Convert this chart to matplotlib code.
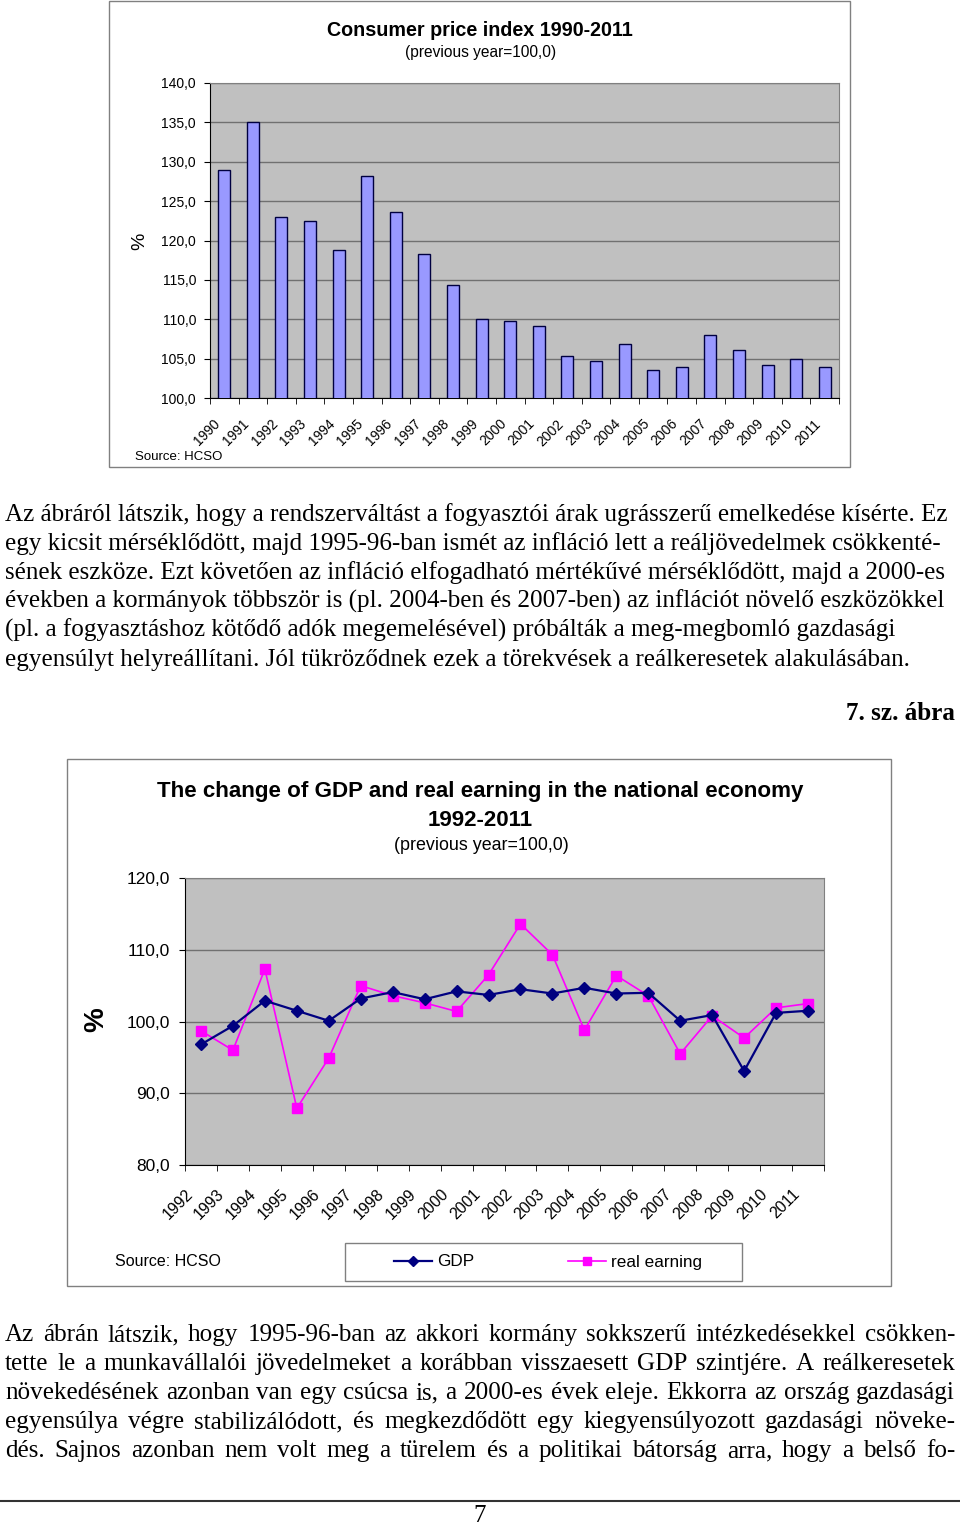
import matplotlib
matplotlib.use('Agg')
import matplotlib.pyplot as plt
from matplotlib.patches import Rectangle
from matplotlib.lines import Line2D
from matplotlib.transforms import ScaledTranslation
import numpy as np

W, H = 960, 1525
DPI = 100

# ---------------- data ----------------
cpi_years = [str(y) for y in range(1990, 2012)]
cpi_values = [128.9, 135.0, 123.0, 122.5, 118.8, 128.2, 123.6, 118.3, 114.3, 110.0, 109.8,
              109.2, 105.3, 104.7, 106.8, 103.6, 103.9, 108.0, 106.1, 104.2, 104.9, 103.9]
cpi_yticks = [100, 105, 110, 115, 120, 125, 130, 135, 140]

gdp_years = [str(y) for y in range(1992, 2012)]
gdp_values = [96.8, 99.4, 102.9, 101.5, 100.1, 103.2, 104.1, 103.1, 104.2, 103.7,
              104.5, 103.9, 104.7, 103.9, 104.0, 100.1, 100.9, 93.1, 101.2, 101.5]
earning_values = [98.7, 96.0, 107.3, 87.9, 94.9, 105.0, 103.6, 102.6, 101.4, 106.5,
                  113.6, 109.3, 98.8, 106.4, 103.6, 95.5, 100.8, 97.7, 101.9, 102.5]
gdp_yticks = [80, 90, 100, 110, 120]

para1 = [
    "Az ábráról látszik, hogy a rendszerváltást a fogyasztói árak ugrásszerű emelkedése kísérte. Ez",
    "egy kicsit mérséklődött, majd 1995-96-ban ismét az infláció lett a reáljövedelmek csökkenté-",
    "sének eszköze. Ezt követően az infláció elfogadható mértékűvé mérséklődött, majd a 2000-es",
    "években a kormányok többször is (pl. 2004-ben és 2007-ben) az inflációt növelő eszközökkel",
    "(pl. a fogyasztáshoz kötődő adók megemelésével) próbálták a meg-megbomló gazdasági",
    "egyensúlyt helyreállítani. Jól tükröződnek ezek a törekvések a reálkeresetek alakulásában.",
]
para2 = [
    "Az ábrán látszik, hogy 1995-96-ban az akkori kormány sokkszerű intézkedésekkel csökken-",
    "tette le a munkavállalói jövedelmeket a korábban visszaesett GDP szintjére. A reálkeresetek",
    "növekedésének azonban van egy csúcsa is, a 2000-es évek eleje. Ekkorra az ország gazdasági",
    "egyensúlya végre stabilizálódott, és megkezdődött egy kiegyensúlyozott gazdasági növeke-",
    "dés. Sajnos azonban nem volt meg a türelem és a politikai bátorság arra, hogy a belső fo-",
]

SANS = 'Liberation Sans'
SERIF = 'Liberation Serif'
plt.rcParams['font.family'] = [SANS, 'DejaVu Sans']

fig = plt.figure(figsize=(W / DPI, H / DPI), dpi=DPI)
fig.patch.set_facecolor('white')
renderer = fig.canvas.get_renderer()


def fx(x):
    return x / W


def fy(y):
    return 1 - y / H


def add_ax(x0, y0, x1, y1):
    return fig.add_axes([fx(x0), fy(y1), (x1 - x0) / W, (y1 - y0) / H])


def frame(x0, y0, x1, y1, color='#808080', lw=1.0):
    fig.add_artist(Rectangle((fx(x0), fy(y1)), (x1 - x0) / W, (y1 - y0) / H,
                             transform=fig.transFigure, fill=False, edgecolor=color, lw=lw))


def fmt(v):
    return f"{v:.1f}".replace('.', ',')


def style_axes(ax, nyears):
    ax.set_facecolor('#C0C0C0')
    for s in ['top', 'right']:
        ax.spines[s].set_color('#808080')
    for s in ['left', 'bottom']:
        ax.spines[s].set_color('black')
    ax.yaxis.grid(True, color='#707070', lw=1.0)
    ax.set_axisbelow(True)
    ax.set_xlim(-0.5, nyears - 0.5)
    ax.set_xticks(np.arange(-0.5, nyears, 1.0), minor=True)
    ax.tick_params(axis='x', which='minor', length=4, direction='out', color='black')


# ---------------- chart 1 ----------------
frame(109, 1, 850, 467)
ax1 = add_ax(210, 83, 839, 398)
style_axes(ax1, len(cpi_years))
x1 = np.arange(len(cpi_years))
ax1.bar(x1, cpi_values, width=0.42, color='#9999FF', edgecolor='#000040', lw=1.0, zorder=3)
ax1.set_ylim(100, 140)
ax1.set_yticks(cpi_yticks)
ax1.set_yticklabels([fmt(v) for v in cpi_yticks], fontsize=10)
ax1.tick_params(axis='y', length=4, pad=6)
ax1.set_xticks(x1)
ax1.set_xticklabels(cpi_years, rotation=45, ha='right', va='center',
                    rotation_mode='anchor', fontsize=10)
ax1.tick_params(axis='x', which='major', length=0, pad=17)
off = ScaledTranslation(-4.3 / 72, 0, fig.dpi_scale_trans)
for lab in ax1.get_xticklabels():
    lab.set_transform(lab.get_transform() + off)

fig.text(fx(480), fy(31), "Consumer price index 1990-2011", ha='center', va='center',
         fontsize=14.2, fontweight='bold')
fig.text(fx(481), fy(52), "(previous year=100,0)", ha='center', va='center', fontsize=11.2)
fig.text(fx(140), fy(241), "%", rotation=90, ha='center', va='center', fontsize=14)
fig.text(fx(135), fy(457), "Source: HCSO", ha='left', va='center', fontsize=9.5)

# ---------------- chart 2 ----------------
frame(67, 759, 891, 1286)
ax2 = add_ax(185, 878, 824, 1165)
style_axes(ax2, len(gdp_years))
x2 = np.arange(len(gdp_years))
l_gdp, = ax2.plot(x2, gdp_values, color='#000080', lw=1.6, marker='D', ms=6.5,
                  markerfacecolor='#000080', markeredgecolor='#000080', zorder=4)
l_earn, = ax2.plot(x2, earning_values, color='#FF00FF', lw=1.2, marker='s', ms=7,
                   markerfacecolor='#FF00FF', markeredgecolor='#FF00FF', zorder=3)
ax2.set_ylim(80, 120)
ax2.set_yticks(gdp_yticks)
ax2.set_yticklabels([fmt(v) for v in gdp_yticks], fontsize=12.5)
ax2.tick_params(axis='y', length=4, pad=7)
ax2.set_xticks(x2)
ax2.set_xticklabels(gdp_years, rotation=45, ha='right', va='center',
                    rotation_mode='anchor', fontsize=11.5)
ax2.tick_params(axis='x', which='major', length=0, pad=19.5)
off2 = ScaledTranslation(-7.8 / 72, 0, fig.dpi_scale_trans)
for lab in ax2.get_xticklabels():
    lab.set_transform(lab.get_transform() + off2)

fig.text(fx(480), fy(791), "The change of GDP and real earning in the national economy",
         ha='center', va='center', fontsize=16.1, fontweight='bold')
fig.text(fx(480), fy(820), "1992-2011", ha='center', va='center', fontsize=16.1, fontweight='bold')
fig.text(fx(481), fy(846), "(previous year=100,0)", ha='center', va='center', fontsize=12.9)
fig.text(fx(96), fy(1020), "%", rotation=90, ha='center', va='center', fontsize=20,
         fontweight='bold')
fig.text(fx(115), fy(1262), "Source: HCSO", ha='left', va='center', fontsize=11.5)

frame(345, 1243, 742, 1281)
leg = fig.legend([l_gdp, l_earn], ['GDP', 'real earning'], ncol=2, loc='center',
                 bbox_to_anchor=(fx(548), fy(1262)), frameon=False, fontsize=12.3,
                 handlelength=2.2, handletextpad=0.3, columnspacing=5.5, markerscale=0.8)

# ---------------- body text ----------------
probe = fig.text(0, 0, para1[0], fontsize=20, family=SERIF)
pw = probe.get_window_extent(renderer).width
probe.remove()
FS = 20 * (945.0 / pw)


def draw_left(line, y_base, x0):
    fig.text(fx(x0), fy(y_base), line, fontsize=FS, family=SERIF, ha='left', va='baseline')


def draw_justified(line, y_base, x0, x1):
    words = line.split(' ')
    texts = [fig.text(0, fy(y_base), w, fontsize=FS, family=SERIF, ha='left', va='baseline')
             for w in words]
    widths = [t.get_window_extent(renderer).width for t in texts]
    gap = (x1 - x0 - sum(widths)) / max(len(words) - 1, 1)
    x = x0
    for t, wd in zip(texts, widths):
        t.set_x(fx(x))
        x += wd + gap


p1_base = [521, 550, 579, 608, 637, 666]
for line, yb in zip(para1, p1_base):
    draw_left(line, yb, 5)

fig.text(fx(955), fy(720), "7. sz. ábra", fontsize=FS, family=SERIF, fontweight='bold',
         ha='right', va='baseline')

p2_base = [1341, 1370, 1399, 1428, 1457]
for line, yb in zip(para2, p2_base):
    draw_justified(line, yb, 5, 955)

fig.add_artist(Line2D([0, 1], [fy(1501), fy(1501)], transform=fig.transFigure,
                      color='#333333', lw=1.5))
fig.text(fx(480), fy(1522), "7", fontsize=FS, family=SERIF, ha='center', va='baseline')

fig.savefig('out.png', dpi=DPI)
